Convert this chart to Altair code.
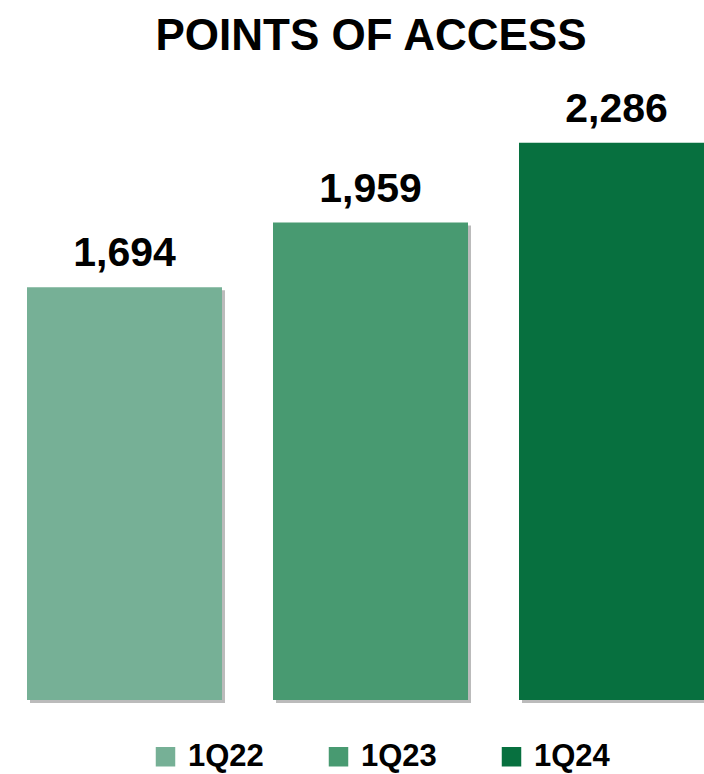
import altair as alt
import pandas as pd

quarters = ["1Q22", "1Q23", "1Q24"]
points = [1694, 1959, 2286]
colors = ["#76B096", "#489A71", "#07703F"]

df = pd.DataFrame({"quarter": quarters, "points": points})
df["label"] = df["points"].map(lambda v: f"{v:,}")

FONT = "Liberation Sans"

x = alt.X("quarter:N", sort=quarters, axis=None,
          scale=alt.Scale(range=[27, 714], paddingInner=0.2073, paddingOuter=0))
y = alt.Y("points:Q", axis=None, scale=alt.Scale(domain=[0, 2626], nice=False, zero=True))

shadow = alt.Chart(df).mark_bar(color="#555555", opacity=0.4, xOffset=3, yOffset=3).encode(
    x=x, y=y
)

bars = alt.Chart(df).mark_bar().encode(
    x=x, y=y,
    color=alt.Color("quarter:N", sort=quarters,
                    scale=alt.Scale(domain=quarters, range=colors),
                    legend=alt.Legend(orient="none", legendX=150, legendY=681,
                                      direction="horizontal", title=None, padding=0,
                                      symbolType="square", symbolSize=380,
                                      symbolStrokeWidth=0, symbolOpacity=1,
                                      labelFont=FONT, labelFontSize=31,
                                      labelFontWeight="bold", labelColor="#000000",
                                      labelOffset=7, columnPadding=59,
                                      labelLimit=200))
)

labels = alt.Chart(df).mark_text(font=FONT, fontSize=41, fontWeight="bold",
                                 color="#000000", baseline="alphabetic", dy=-21).encode(
    x=x, y=y, text="label:N"
)

chart = alt.layer(shadow, bars, labels).properties(
    width=704, height=640,
    title=alt.Title("POINTS OF ACCESS", font=FONT, fontSize=44, fontWeight="bold",
                    color="#000000", anchor="middle", dx=19, offset=1),
    autosize=alt.AutoSizeParams(type="none"),
    padding={"left": 0, "right": 0, "top": 60, "bottom": 74},
).configure_view(stroke=None)

chart.save("out.html", embed_options={"renderer": "svg", "actions": False})
